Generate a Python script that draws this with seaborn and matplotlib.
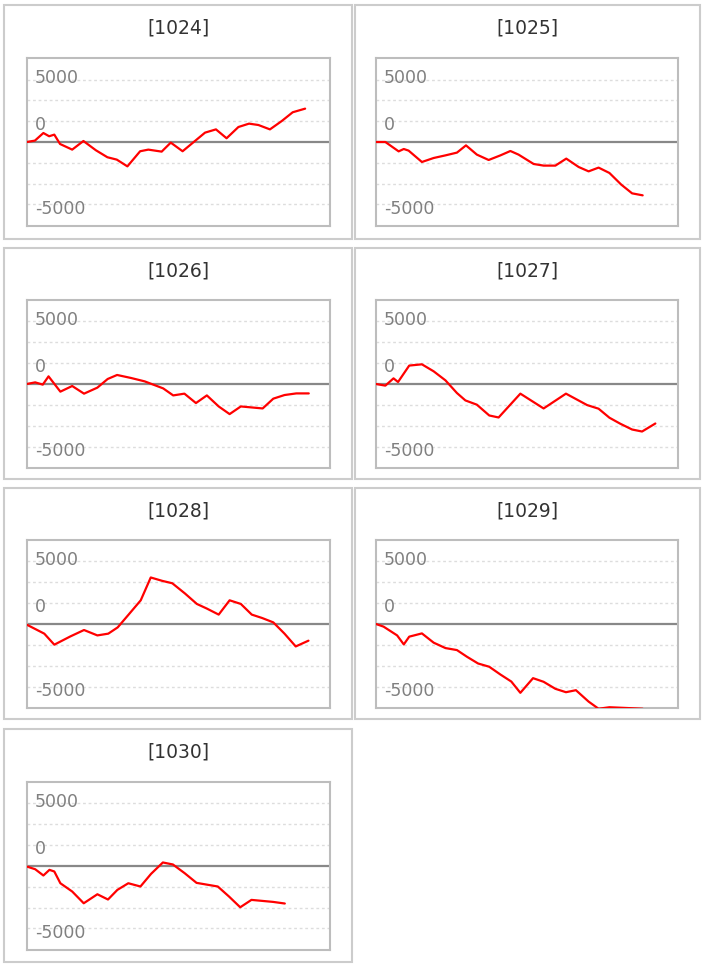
import matplotlib
matplotlib.use("Agg")
import matplotlib.pyplot as plt
import matplotlib.transforms as mtransforms
from matplotlib.patches import Rectangle
import seaborn as sns

# Data (x = position along the day, 0-100; y = coin difference)
machines = ["1024", "1025", "1026", "1027", "1028", "1029", "1030"]

x_1024 = [0, 2.7, 5.5, 7.4, 9.1, 11.0, 15.0, 18.7, 22.8, 26.6, 29.7, 33.2, 37.4, 40.1,
          44.5, 47.5, 51.4, 58.8, 62.4, 65.9, 69.8, 73.3, 76.4, 80.2, 84.1, 87.7, 91.8]
y_1024 = [0, 110, 720, 460, 590, -160, -610, 80, -660, -1220, -1410, -1950, -740, -610,
          -770, -50, -740, 750, 1010, 300, 1200, 1470, 1360, 1010, 1680, 2380, 2670]

x_1025 = [0, 3.1, 7.5, 9.2, 10.8, 15.2, 19.1, 23.0, 26.8, 29.8, 33.4, 37.3, 41.2, 44.5,
          47.2, 52.2, 55.5, 59.4, 63.0, 67.1, 70.4, 73.7, 77.3, 81.2, 84.8, 88.3]
y_1025 = [0, 0, -750, -560, -690, -1600, -1280, -1070, -850, -270, -1010, -1440, -1070, -720,
          -1010, -1760, -1890, -1890, -1330, -2000, -2350, -2050, -2480, -3410, -4110, -4270]

x_1026 = [0, 2.8, 5.3, 7.2, 11.1, 15.0, 18.9, 23.3, 26.7, 29.8, 34.4, 38.9, 45.0, 48.3,
          52.0, 55.8, 59.4, 63.3, 66.9, 70.6, 77.8, 81.3, 85.0, 88.9, 93.0]
y_1026 = [0, 130, -50, 610, -610, -160, -770, -290, 400, 720, 480, 210, -350, -910,
          -770, -1520, -910, -1790, -2400, -1790, -1950, -1170, -880, -750, -750]

x_1027 = [0, 3.1, 5.8, 7.3, 11.0, 15.2, 19.1, 23.0, 26.8, 29.6, 33.4, 37.5, 40.6, 47.8,
          55.5, 62.9, 69.9, 73.7, 77.3, 80.9, 84.8, 88.1, 92.5]
y_1027 = [0, -130, 450, 160, 1470, 1570, 1010, 290, -720, -1310, -1650, -2510, -2670, -770,
          -1950, -770, -1680, -1970, -2690, -3170, -3630, -3790, -3150]

x_1028 = [0, 5.8, 9.1, 14.4, 18.9, 23.3, 26.9, 30.0, 33.6, 37.6, 40.9, 44.7, 48.0, 52.2,
          56.1, 59.4, 63.3, 66.9, 70.6, 74.2, 77.6, 81.3, 85.0, 88.7, 92.9]
y_1028 = [-50, -770, -1650, -990, -480, -910, -770, -270, 750, 1890, 3710, 3440, 3250, 2430,
          1600, 1230, 750, 1890, 1600, 750, 480, 130, -770, -1790, -1330]

x_1029 = [0, 2.5, 7.0, 9.2, 11.0, 15.2, 19.1, 23.0, 26.8, 30.1, 33.8, 37.5, 41.2, 44.8,
          47.8, 52.0, 55.5, 59.4, 62.9, 66.2, 70.4, 73.7, 77.3, 84.8, 88.3]
y_1029 = [0, -210, -910, -1630, -1010, -750, -1490, -1920, -2080, -2610, -3150, -3410, -4030, -4590,
          -5490, -4320, -4610, -5170, -5440, -5280, -6190, -6760, -6640, -6720, -6760]

x_1030 = [0, 2.8, 5.5, 7.5, 9.1, 11.1, 15.0, 18.8, 23.3, 26.8, 29.9, 33.5, 37.5, 41.0,
          44.9, 48.2, 52.1, 56.0, 63.0, 66.7, 70.4, 74.1, 81.2, 85.1]
y_1030 = [-50, -270, -770, -320, -450, -1390, -2050, -2990, -2270, -2690, -1920, -1390, -1650, -640,
          270, 110, -590, -1360, -1650, -2450, -3310, -2720, -2880, -3010]

series = [(x_1024, y_1024), (x_1025, y_1025), (x_1026, y_1026), (x_1027, y_1027),
          (x_1028, y_1028), (x_1029, y_1029), (x_1030, y_1030)]

grid_vals = [-5000, -3333, -1667, 1667, 3333, 5000]
label_texts = ["5000", "0", "-5000"]
label_pos = [5130, 1330, -5330]

# Layout in pixels
W, H = 704, 966
col_plot = [(26.7, 330), (376, 678)]
row_plot = [(58.3, 225.7), (300, 468), (540, 708), (782, 949.7)]
col_box = [(4, 352), (355, 699.5)]
row_box = [(5.5, 239), (248, 479), (488, 719), (728.5, 962)]

sns.set_style("white")
plt.rcParams['font.family'] = ['DejaVu Sans']

fig = plt.figure(figsize=(W / 100, H / 100), dpi=100)


def fx(px):
    return px / W


def fy(py):
    return 1 - py / H


for i, name in enumerate(machines):
    r, c = divmod(i, 2)
    bl, br = col_box[c]
    bt, bb = row_box[r]
    fig.add_artist(Rectangle((fx(bl), fy(bb)), fx(br) - fx(bl), fy(bt) - fy(bb),
                             transform=fig.transFigure, fill=False,
                             edgecolor="#cccccc", linewidth=1.5))
    fig.text(fx((bl + br) / 2), fy(bt + 23), f"[{name}]", ha="center", va="center",
             fontsize=13.5, color="#333333")

    pl, pr = col_plot[c]
    pt, pb = row_plot[r]
    ax = fig.add_axes([fx(pl), fy(pb), fx(pr) - fx(pl), fy(pt) - fy(pb)])
    ax.set_xlim(0, 100)
    ax.set_ylim(-6700, 6700)
    ax.set_yticks(grid_vals)
    ax.set_xticks([])
    ax.set_yticklabels([])
    ax.tick_params(length=0)
    ax.yaxis.grid(True, linestyle=(0, (2, 2)), color="#dddddd", linewidth=1)
    ax.axhline(0, color="#888888", linewidth=1.6, zorder=2)

    xs, ys = series[i]
    sns.lineplot(x=xs, y=ys, ax=ax, color="#ff0000", linewidth=1.6, zorder=3)

    trans = mtransforms.blended_transform_factory(ax.transAxes, ax.transData)
    for txt, yp in zip(label_texts, label_pos):
        ax.text(0.027, yp, txt, transform=trans, ha="left", va="center",
                fontsize=12.5, color="#808080", zorder=1)

    for sp in ax.spines.values():
        sp.set_color("#bdbdbd")
        sp.set_linewidth(1.5)

fig.savefig("out.png", dpi=100)
